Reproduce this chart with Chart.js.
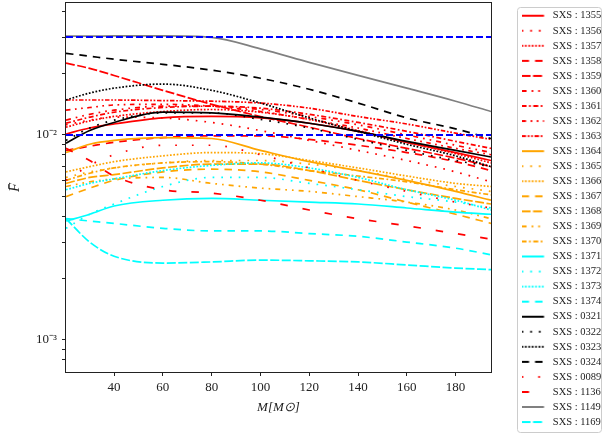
<!DOCTYPE html>
<html>
<head>
<meta charset="utf-8">
<script src="https://cdn.jsdelivr.net/npm/chart.js@4.4.0/dist/chart.umd.min.js"></script>
<style>
    html, body { margin: 0; padding: 0; background: #fff; }
    canvas { display: block; }
</style>
</head>
<body>
<canvas id="fitChart" width="603" height="434"></canvas>
<script>
// total mass M [M_sun] where the match was evaluated
var masses = [20.3, 30, 40, 60, 80, 100, 120, 140, 160, 180, 194.5];

var sxs1355 = [0.0101, 0.0108, 0.0113, 0.0121, 0.0123, 0.0121, 0.0114, 0.0104, 0.0092, 0.0082, 0.0075];
var sxs1356 = [0.0112, 0.0118, 0.0122, 0.0121, 0.0115, 0.0105, 0.0094, 0.0084, 0.0075, 0.0066, 0.0059];
var sxs1357 = [0.0109, 0.0117, 0.0123, 0.0130, 0.0133, 0.0129, 0.0119, 0.0105, 0.0092, 0.0081, 0.0073];
var sxs1358 = [0.0084, 0.0088, 0.0092, 0.0097, 0.0099, 0.0099, 0.0095, 0.0089, 0.0082, 0.0074, 0.0067];
var sxs1359 = [0.0224, 0.0211, 0.0195, 0.0165, 0.0141, 0.0123, 0.0109, 0.0096, 0.0086, 0.0077, 0.0070];
var sxs1360 = [0.0118, 0.0126, 0.0132, 0.0138, 0.0138, 0.0133, 0.0123, 0.0112, 0.0100, 0.0089, 0.0082];
var sxs1361 = [0.0114, 0.0122, 0.0129, 0.0136, 0.0138, 0.0135, 0.0126, 0.0115, 0.0104, 0.0093, 0.0086];
var sxs1362 = [0.0132, 0.0136, 0.0140, 0.0141, 0.0138, 0.0130, 0.0119, 0.0108, 0.0096, 0.0086, 0.0080];
var sxs1363 = [0.0148, 0.0148, 0.0148, 0.0147, 0.0146, 0.0143, 0.0135, 0.0123, 0.0113, 0.0102, 0.0095];
var sxs1364 = [0.0082, 0.0090, 0.0094, 0.0097, 0.0096, 0.0084, 0.0074, 0.0067, 0.0060, 0.0053, 0.0048];
var sxs1365 = [0.0062, 0.0066, 0.0069, 0.0073, 0.0075, 0.0075, 0.0072, 0.0067, 0.0061, 0.0056, 0.0053];
var sxs1366 = [0.0066, 0.0070, 0.0074, 0.0079, 0.0082, 0.0081, 0.0075, 0.0069, 0.0063, 0.0058, 0.0056];
var sxs1367 = [0.0050, 0.0055, 0.0060, 0.0066, 0.0068, 0.0066, 0.0060, 0.0054, 0.0047, 0.0041, 0.0037];
var sxs1368 = [0.0058, 0.0062, 0.0064, 0.0069, 0.0072, 0.0072, 0.0067, 0.0060, 0.0054, 0.0049, 0.0046];
var sxs1369 = [0.0056, 0.0059, 0.0061, 0.0062, 0.0058, 0.0055, 0.0053, 0.0050, 0.0047, 0.0043, 0.0039];
var sxs1370 = [0.0060, 0.0065, 0.0069, 0.0073, 0.0074, 0.0072, 0.0067, 0.0063, 0.0059, 0.0054, 0.0051];
var sxs1371 = [0.0038, 0.0041, 0.0045, 0.0048, 0.0049, 0.0048, 0.0047, 0.0046, 0.0044, 0.0042, 0.0041];
var sxs1372 = [0.0035, 0.0041, 0.0046, 0.0056, 0.0062, 0.0062, 0.0058, 0.0054, 0.0050, 0.0047, 0.0044];
var sxs1373 = [0.0054, 0.0058, 0.0061, 0.0067, 0.0071, 0.0073, 0.0069, 0.0062, 0.0054, 0.0048, 0.0043];
var sxs1374 = [0.0039, 0.0038, 0.0037, 0.0035, 0.0034, 0.0034, 0.0033, 0.0032, 0.0030, 0.0028, 0.0026];
var sxs0321 = [0.0091, 0.0105, 0.0115, 0.0129, 0.0128, 0.0122, 0.0114, 0.0104, 0.0093, 0.0084, 0.0078];
var sxs0322 = [0.0094, 0.0108, 0.0118, 0.0128, 0.0128, 0.0119, 0.0108, 0.0095, 0.0084, 0.0075, 0.0070];
var sxs0323 = [0.0148, 0.0160, 0.0169, 0.0177, 0.0165, 0.0143, 0.0121, 0.0104, 0.0090, 0.0079, 0.0070];
var sxs0324 = [0.0250, 0.0242, 0.0234, 0.0221, 0.0207, 0.0189, 0.0167, 0.0143, 0.0121, 0.0107, 0.0096];
var sxs0089 = [0.0060, 0.0071, 0.0080, 0.0089, 0.0089, 0.0080, 0.0069, 0.0060, 0.0053, 0.0047, 0.0044];
var sxs1136 = [0.0086, 0.0075, 0.0063, 0.0054, 0.0052, 0.0048, 0.0043, 0.0039, 0.0036, 0.0033, 0.0031];
var sxs1149 = [0.0303, 0.0303, 0.0304, 0.0304, 0.0299, 0.0263, 0.0226, 0.0195, 0.0169, 0.0146, 0.0130];
var sxs1169 = [0.0039, 0.0030, 0.00256, 0.00237, 0.0024, 0.00245, 0.00243, 0.0024, 0.00232, 0.00224, 0.0022];

var runs = ['1355', '1356', '1357', '1358', '1359', '1360', '1361', '1362', '1363',
            '1364', '1365', '1366', '1367', '1368', '1369', '1370',
            '1371', '1372', '1373', '1374',
            '0321', '0322', '0323', '0324',
            '0089', '1136', '1149', '1169'];
var values = [sxs1355, sxs1356, sxs1357, sxs1358, sxs1359, sxs1360, sxs1361, sxs1362, sxs1363,
              sxs1364, sxs1365, sxs1366, sxs1367, sxs1368, sxs1369, sxs1370,
              sxs1371, sxs1372, sxs1373, sxs1374,
              sxs0321, sxs0322, sxs0323, sxs0324,
              sxs0089, sxs1136, sxs1149, sxs1169];

// horizontal reference levels (blue dashed)
var refLevels = [0.03, 0.01];

// line styles
var SOLID = [];
var DOT = [1.7, 7];
var DENSE_DOT = [1.7, 1.7];
var DASH = [7.5, 6];
var LONG_DASH = [9, 2.5];
var DASH_DOT_DOT = [5, 5, 1.7, 5, 1.7, 5];
var DASH_DOT = [5, 2.5, 1.7, 2.5];
var DASH_DOT_DOT_B = [4.5, 4.5, 1.7, 4.5, 1.7, 4.5];
var DENSE_DASH_DOT_DOT = [4.5, 1.7, 1.7, 1.7, 1.7, 1.7];
var LOOSE_DOT = [1.7, 15];
var LOOSE_DASH = [7.5, 15];

var colors = [
    'red', 'red', 'red', 'red', 'red', 'red', 'red', 'red', 'red',
    'orange', 'orange', 'orange', 'orange', 'orange', 'orange', 'orange',
    'cyan', 'cyan', 'cyan', 'cyan',
    'black', 'black', 'black', 'black',
    'red', 'red', 'gray', 'cyan'
];
var dashes = [
    SOLID, DOT, DENSE_DOT, DASH, LONG_DASH, DASH_DOT_DOT, DASH_DOT, DASH_DOT_DOT_B, DENSE_DASH_DOT_DOT,
    SOLID, DOT, DENSE_DOT, DASH, LONG_DASH, DASH_DOT_DOT, DASH_DOT,
    SOLID, DOT, DENSE_DOT, DASH,
    SOLID, DOT, DENSE_DOT, DASH,
    LOOSE_DOT, LOOSE_DASH, SOLID, LONG_DASH
];

var tickFont = {family: 'Liberation Serif', size: 13};
var inkColor = '#222';
var lineW = 1.7;

// little line sample used as the legend marker
function lineIcon(color, dash) {
    var c = document.createElement('canvas');
    c.width = 26;
    c.height = 6;
    var g = c.getContext('2d');
    g.strokeStyle = color;
    g.lineWidth = 2;
    g.setLineDash(dash);
    g.beginPath();
    g.moveTo(0, 3);
    g.lineTo(22.5, 3);
    g.stroke();
    return c;
}

function supExp(n) {
    var map = {'-': '\u207B', '0': '\u2070', '1': '\u00B9', '2': '\u00B2', '3': '\u00B3', '4': '\u2074'};
    return String(n).split('').map(function(ch) { return map[ch]; }).join('');
}

var datasets = runs.map(function(run, i) {
    return {
        label: 'SXS : ' + run,
        data: masses.map(function(m, j) { return {x: m, y: values[i][j]}; }),
        borderColor: colors[i],
        borderDash: dashes[i],
        borderWidth: lineW,
        pointRadius: 0,
        pointStyle: lineIcon(colors[i], dashes[i]),
        cubicInterpolationMode: 'monotone',
        order: runs.length - i + 1
    };
});
refLevels.forEach(function(level) {
    datasets.push({
        label: '',
        data: [{x: masses[0], y: level}, {x: masses[masses.length - 1], y: level}],
        borderColor: 'blue',
        borderDash: [7, 3],
        borderWidth: 2,
        pointRadius: 0,
        order: 0
    });
});

var framePlugin = {
    id: 'frame',
    afterDraw: function(chart) {
        var a = chart.chartArea;
        var g = chart.ctx;
        g.save();
        g.strokeStyle = inkColor;
        g.lineWidth = 1;
        g.strokeRect(a.left - 0.5, a.top - 0.5, a.right - a.left + 1, a.bottom - a.top + 1);
        var lg = chart.legend;
        g.strokeStyle = '#cccccc';
        g.beginPath();
        g.roundRect(lg.left + 0.5, lg.top + 4.5, lg.right - lg.left - 2, lg.bottom - lg.top - 6, 3);
        g.stroke();
        g.restore();
    }
};

var ctx = document.getElementById('fitChart').getContext('2d');

var fitChart = new Chart(ctx, {
    type: 'line',
    data: { datasets: datasets },
    plugins: [framePlugin],
    options: {
        responsive: false,
        animation: false,
        devicePixelRatio: 1,
        layout: { padding: { top: 3, left: 0, right: 0, bottom: 0 } },
        plugins: {
            tooltip: { enabled: false },
            legend: {
                position: 'right',
                align: 'start',
                maxWidth: 86,
                title: { display: true, text: '', font: { size: 1, lineHeight: 1 }, padding: { top: 1.9, bottom: 0 } },
                labels: {
                    usePointStyle: true,
                    pointStyleWidth: 26,
                    padding: 4.55,
                    color: inkColor,
                    font: { family: 'Liberation Serif', size: 10.5 },
                    filter: function(item) { return item.text !== ''; },
                    sort: function(a, b) { return a.datasetIndex - b.datasetIndex; }
                }
            }
        },
        scales: {
            x: {
                type: 'linear',
                min: masses[0],
                max: masses[masses.length - 1],
                border: { display: false },
                grid: { drawOnChartArea: false, tickLength: 4, tickColor: inkColor },
                ticks: { stepSize: 20, includeBounds: false, padding: 3.5, maxRotation: 0, autoSkip: false, font: tickFont, color: inkColor },
                title: {
                    display: true,
                    text: 'M[M\u2299]',
                    color: inkColor,
                    font: { family: 'Liberation Serif', size: 13, style: 'italic' },
                    padding: { top: 0, bottom: 19 }
                },
                afterFit: function(s) { s.height = 62; s.paddingLeft = 0; s.paddingRight = 0; }
            },
            y: {
                type: 'logarithmic',
                min: 0.000697,
                max: 0.044,
                border: { display: false },
                grid: { drawOnChartArea: false, tickLength: 4, tickColor: inkColor },
                ticks: {
                    autoSkip: false,
                    padding: 5,
                    font: tickFont,
                    color: inkColor,
                    callback: function(v) {
                        var e = Math.round(Math.log10(v));
                        return Math.abs(Math.log10(v) - e) < 1e-6 ? '10' + supExp(e) : '';
                    }
                },
                afterBuildTicks: function(s) {
                    s.ticks = s.ticks.filter(function(t) {
                        var e = Math.floor(Math.log10(t.value) + 1e-9);
                        var m = t.value / Math.pow(10, e);
                        return Math.abs(m - Math.round(m)) < 1e-6;
                    });
                },
                title: {
                    display: true,
                    text: 'F\u0304',
                    color: inkColor,
                    font: { family: 'Liberation Serif', size: 15, style: 'italic' },
                    padding: { top: 6, bottom: 0 }
                },
                afterFit: function(s) { s.width = 66; s.paddingTop = 0; s.paddingBottom = 0; }
            },
            gap: {
                type: 'linear',
                position: 'right',
                grid: { display: false },
                border: { display: false },
                ticks: { display: false },
                afterFit: function(s) { s.width = 26; s.paddingTop = 0; s.paddingBottom = 0; }
            }
        }
    }
});
</script>
</body>
</html>
